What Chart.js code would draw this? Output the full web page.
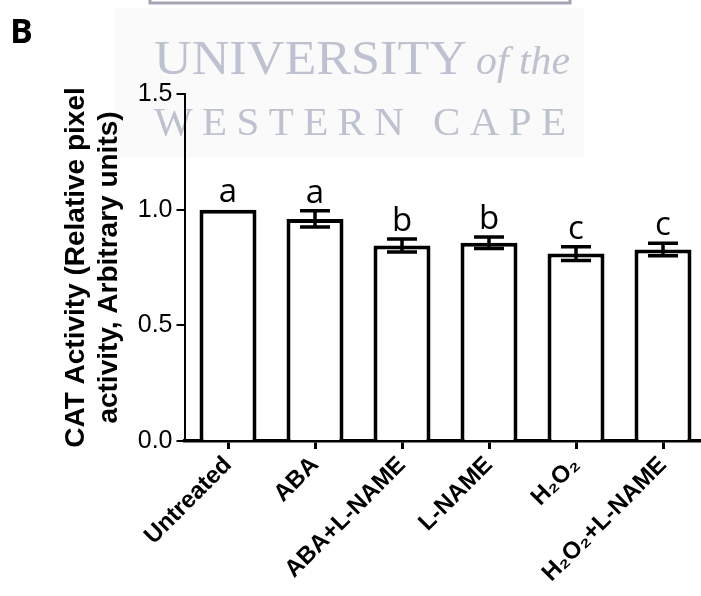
<!DOCTYPE html>
<html>
<head>
<meta charset="utf-8">
<script src="https://cdn.jsdelivr.net/npm/chart.js@4.4.0/dist/chart.umd.min.js"></script>
<style>
  html, body { margin: 0; padding: 0; background: #fff; overflow: hidden; }
  #wrap { position: absolute; left: 0; top: 0; width: 720px; height: 596px; }
</style>
</head>
<body>
<div id="wrap"><canvas id="c" width="720" height="596"></canvas></div>
<script>
// Treatment groups and CAT activity (mean ± SEM, relative to untreated)
const categories = ['Untreated', 'ABA', 'ABA+L-NAME', 'L-NAME', 'H₂O₂', 'H₂O₂+L-NAME'];
const means = [1.00, 0.96, 0.845, 0.857, 0.81, 0.828];
const sems = [0, 0.035, 0.028, 0.025, 0.03, 0.027];
const groupLetters = ['a', 'a', 'b', 'b', 'c', 'c'];
const yTicks = [0, 0.5, 1.0, 1.5];
const yTitle = ['CAT Activity (Relative pixel', 'activity, Arbitrary units)'];
const panelLabel = 'B';
const watermarkTop = 'UNIVERSITY';
const watermarkItalic = 'of the';
const watermarkBottom = 'WESTERN CAPE';

const SANS = '"Liberation Sans", Arial, sans-serif';

// draw a string squeezed/stretched horizontally to a given width
function fitText(ctx, text, x, y, width) {
  const w = ctx.measureText(text).width;
  ctx.save();
  ctx.translate(x, y);
  ctx.scale(width / w, 1);
  ctx.fillText(text, 0, 0);
  ctx.restore();
}

// draw a string spread out to a given width, one glyph at a time
function spreadText(ctx, text, x, y, width) {
  const chars = [...text];
  const total = chars.reduce((s, ch) => s + ctx.measureText(ch).width, 0);
  const gap = (width - total) / (chars.length - 1);
  let cx = x;
  chars.forEach(ch => {
    ctx.fillText(ch, cx, y);
    cx += ctx.measureText(ch).width + gap;
  });
}

const backdrop = {
  id: 'backdrop',
  beforeDraw(chart) {
    const ctx = chart.ctx;
    ctx.save();
    ctx.fillStyle = '#fafafa';
    ctx.fillRect(114, 8, 470, 150);
    ctx.strokeStyle = '#a4a4b4';
    ctx.lineWidth = 3;
    ctx.strokeRect(150, -10, 420, 13);
    ctx.fillStyle = '#bec1cf';
    ctx.textBaseline = 'alphabetic';
    ctx.font = '48px "Liberation Serif", serif';
    fitText(ctx, watermarkTop, 154, 74, 313);
    ctx.font = 'italic 40px "Liberation Serif", serif';
    fitText(ctx, watermarkItalic, 476, 74, 94);
    ctx.font = '41px "Liberation Serif", serif';
    spreadText(ctx, watermarkBottom, 154, 135, 412);
    ctx.restore();
  }
};

const errorBarsAndLetters = {
  id: 'errorBarsAndLetters',
  afterDatasetsDraw(chart) {
    const ctx = chart.ctx;
    const y = chart.scales.y;
    const meta = chart.getDatasetMeta(0);
    ctx.save();
    ctx.strokeStyle = '#000';
    ctx.fillStyle = '#000';
    ctx.lineWidth = 3.5;
    meta.data.forEach((bar, i) => {
      const x = bar.x;
      const top = y.getPixelForValue(means[i] + sems[i]);
      const bot = y.getPixelForValue(means[i] - sems[i]);
      if (sems[i] > 0) {
        ctx.beginPath();
        ctx.moveTo(x, top); ctx.lineTo(x, bot);
        ctx.moveTo(x - 15, top); ctx.lineTo(x + 15, top);
        ctx.moveTo(x - 15, bot); ctx.lineTo(x + 15, bot);
        ctx.stroke();
      }
      ctx.font = '33px "Open Sans", sans-serif';
      ctx.textAlign = 'center';
      ctx.textBaseline = 'alphabetic';
      ctx.fillText(groupLetters[i], x, top - 8);
    });
    ctx.font = 'bold 34px "Open Sans", sans-serif';
    ctx.textAlign = 'left';
    ctx.fillText(panelLabel, 10, 43);
    ctx.restore();
  }
};

new Chart(document.getElementById('c'), {
  type: 'bar',
  data: {
    labels: categories,
    datasets: [{
      data: means,
      backgroundColor: '#ffffff',
      borderColor: '#000000',
      borderWidth: 4,
      borderSkipped: 'bottom',
      barPercentage: 0.655,
      categoryPercentage: 1
    }]
  },
  options: {
    responsive: false,
    animation: false,
    events: [],
    layout: { padding: { top: 94, right: 13.5, left: 0, bottom: 0 } },
    plugins: { legend: { display: false }, tooltip: { enabled: false } },
    scales: {
      x: {
        grid: { display: true, drawOnChartArea: false, offset: false, tickLength: 8, lineWidth: 3, color: '#000' },
        border: { color: '#000', width: 3.5 },
        ticks: {
          color: '#000',
          font: { family: SANS, size: 24, weight: 'bold' },
          minRotation: 45, maxRotation: 45, padding: 2
        },
        afterFit(s) { s.height = 155; }
      },
      y: {
        min: 0, max: 1.5,
        afterBuildTicks(s) { s.ticks = yTicks.map(v => ({ value: v })); },
        ticks: {
          color: '#000',
          font: { family: SANS, size: 25 },
          padding: 4,
          callback: v => Number(v).toFixed(1)
        },
        grid: { display: true, drawOnChartArea: false, tickLength: 8, lineWidth: 2, color: '#000' },
        border: { color: '#000', width: 2 },
        title: {
          display: true, text: yTitle, color: '#000',
          font: { family: SANS, size: 28, weight: 'bold', lineHeight: 1.2 },
          padding: { top: 59, bottom: 0 }
        },
        afterFit(s) { s.width = 184.5; }
      }
    }
  },
  plugins: [backdrop, errorBarsAndLetters]
});
</script>
</body>
</html>
